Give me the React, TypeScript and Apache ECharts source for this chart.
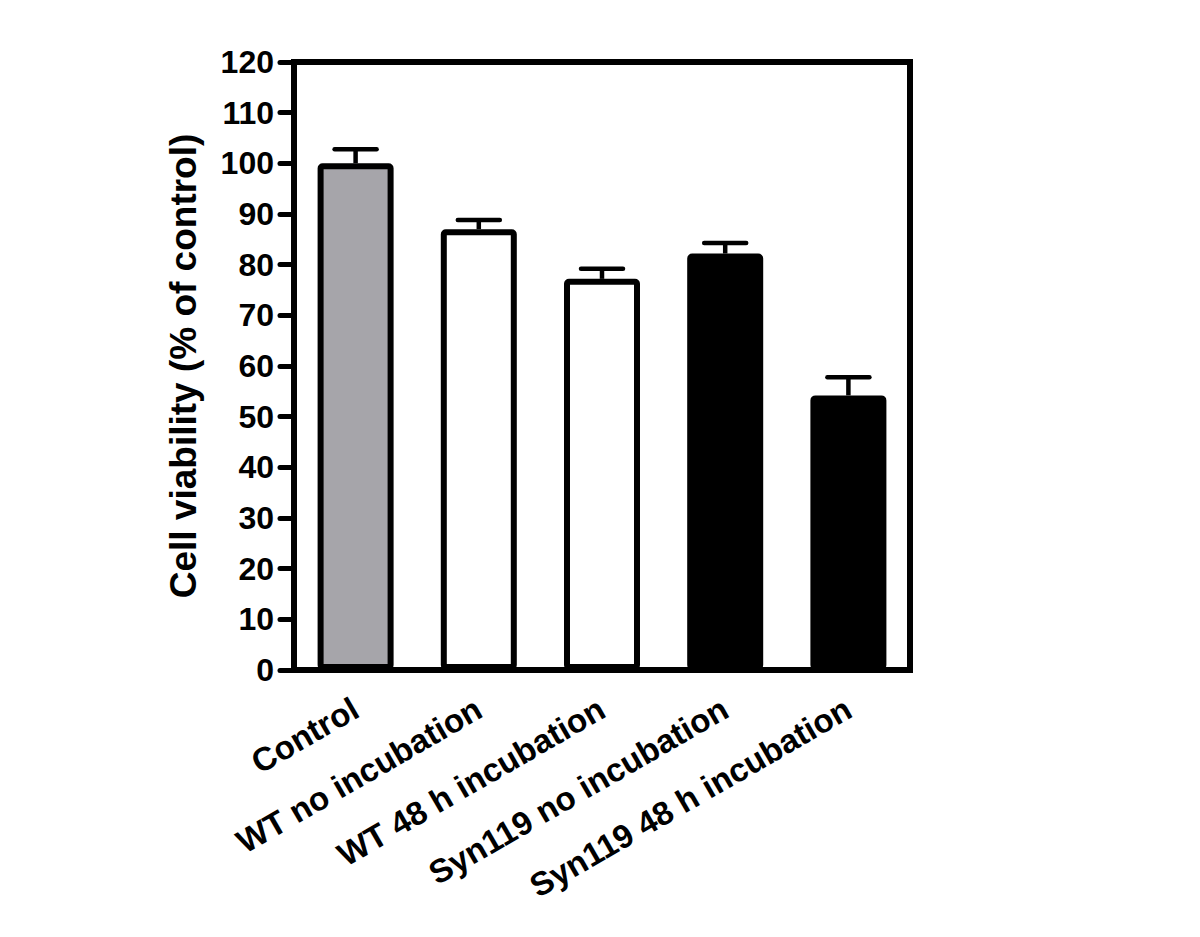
import React, { useEffect, useRef } from "react";
import * as echarts from "echarts";

const categories = [
  "Control",
  "WT no incubation",
  "WT 48 h incubation",
  "Syn119 no incubation",
  "Syn119 48 h incubation",
];
const means = [100, 87, 77.2, 82.2, 54.2];
const errors = [2.8, 1.8, 2.0, 2.1, 3.6];
const fills = ["#a6a5aa", "#ffffff", "#ffffff", "#000000", "#000000"];
const yTicks = { min: 0, max: 120, interval: 10 };

const FONT = "'Liberation Sans', Arial, Helvetica, sans-serif";

export default function App() {
  const ref = useRef<HTMLDivElement>(null);
  useEffect(() => {
    if (!ref.current) return;
    const chart = echarts.init(ref.current, null, { renderer: "svg" });
    chart.setOption({
      animation: false,
      backgroundColor: "#ffffff",
      grid: {
        left: 286,
        right: 282,
        top: 54,
        bottom: 275,
        show: true,
        borderColor: "#000",
        borderWidth: 6,
        backgroundColor: "transparent",
      },
      xAxis: {
        type: "category",
        data: categories,
        axisLine: { lineStyle: { color: "#000", width: 6 } },
        axisTick: {
          alignWithLabel: true,
          length: 14,
          lineStyle: { color: "#000", width: 5, cap: "round" },
        },
        axisLabel: {
          rotate: 30,
          margin: 36,
          color: "#000",
          fontFamily: FONT,
          fontWeight: "bold",
          fontSize: 33,
          interval: 0,
        },
      },
      yAxis: {
        type: "value",
        min: yTicks.min,
        max: yTicks.max,
        interval: yTicks.interval,
        name: "Cell viability (% of control)",
        nameLocation: "middle",
        nameGap: 92,
        nameTextStyle: {
          color: "#000",
          fontFamily: FONT,
          fontWeight: "bold",
          fontSize: 37,
        },
        splitLine: { show: false },
        axisLine: { show: true, lineStyle: { color: "#000", width: 6 } },
        axisTick: {
          show: true,
          length: 14,
          lineStyle: { color: "#000", width: 5, cap: "round" },
        },
        axisLabel: {
          margin: 20,
          color: "#000",
          fontFamily: FONT,
          fontWeight: "bold",
          fontSize: 32,
        },
      },
      series: [
        {
          type: "bar",
          barWidth: 76,
          data: means.map((v, i) => ({
            value: v,
            itemStyle: {
              color: fills[i],
              borderColor: "#000",
              borderWidth: 6,
              borderRadius: 2,
            },
          })),
          z: 2,
        },
        {
          type: "custom",
          z: 3,
          data: means.map((v, i) => [i, v, v + errors[i]]),
          renderItem: (params: any, api: any) => {
            const idx = api.value(0);
            const base = api.coord([idx, api.value(1)]);
            const top = api.coord([idx, api.value(2)]);
            const half = 21;
            return {
              type: "group",
              children: [
                {
                  type: "line",
                  shape: { x1: base[0], y1: base[1], x2: top[0], y2: top[1] },
                  style: { stroke: "#000", lineWidth: 4.5 },
                },
                {
                  type: "line",
                  shape: { x1: top[0] - half, y1: top[1], x2: top[0] + half, y2: top[1] },
                  style: { stroke: "#000", lineWidth: 4.5, lineCap: "round" },
                },
              ],
            };
          },
        },
      ],
    });
    return () => chart.dispose();
  }, []);
  return <div ref={ref} style={{ width: 1184, height: 937 }} />;
}
